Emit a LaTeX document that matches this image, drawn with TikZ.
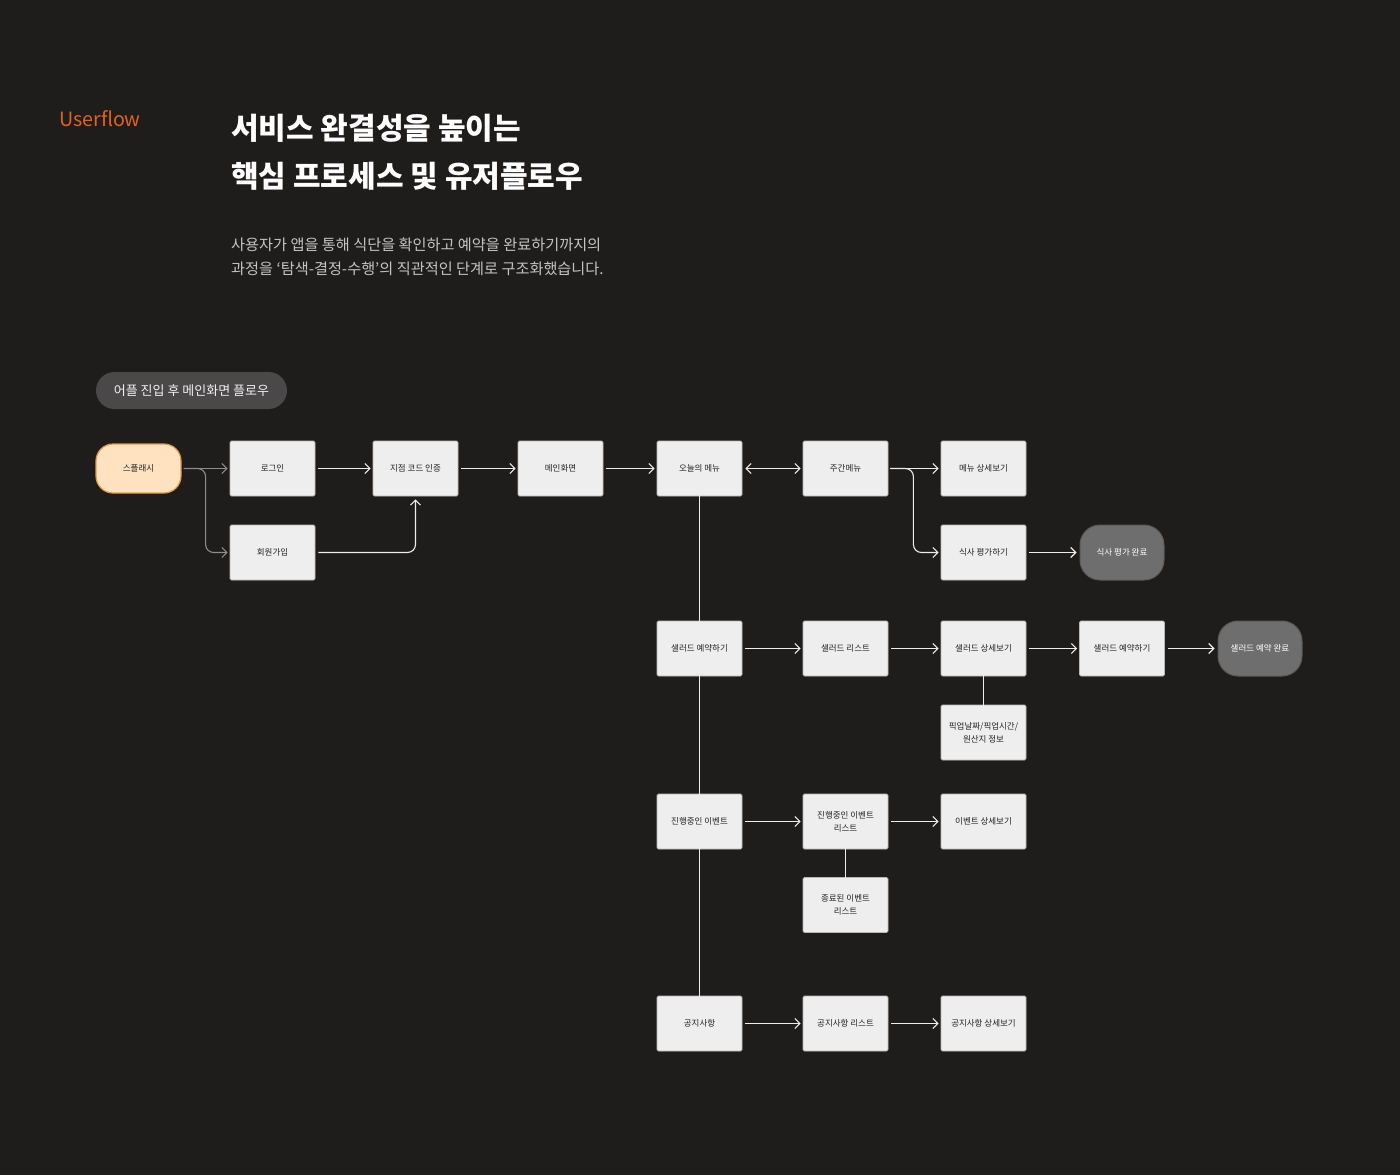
\documentclass[tikz,border=0pt]{standalone}
\usepackage{fontspec}
\newfontfamily\cjk{Noto Sans CJK KR}
\usetikzlibrary{arrows.meta,calc}
\definecolor{bg}{HTML}{1F1C1C}
\definecolor{boxfill}{HTML}{EEEEEE}
\definecolor{boxborder}{HTML}{B8B8B8}
\definecolor{boxtext}{HTML}{222222}
\definecolor{splashfill}{HTML}{FFE2BF}
\definecolor{splashborder}{HTML}{E3974A}
\definecolor{endfill}{HTML}{6E6E6E}
\definecolor{endborder}{HTML}{5A5A5A}
\definecolor{orangetxt}{HTML}{E2621F}
\definecolor{subtxt}{HTML}{C4C4C4}
\definecolor{pillfill}{HTML}{4A4848}
\definecolor{linew}{HTML}{EDEDED}
\definecolor{lineg}{HTML}{8C8C8C}
\begin{document}
\begin{tikzpicture}[x=1pt,y=-1pt,
  stepbox/.style={draw=boxborder, line width=0.8pt, fill=boxfill, minimum width=85pt, minimum height=55pt, rounded corners=1.5pt, inner sep=0pt, align=center, text=boxtext, font=\cjk\fontsize{8.5}{13}\selectfont},
  splashbox/.style={stepbox, fill=splashfill, draw=splashborder, line width=1.2pt, minimum height=49pt, rounded corners=17pt},
  endbox/.style={stepbox, fill=endfill, draw=endborder, line width=1pt, minimum width=84pt, rounded corners=20pt, text=white},
  wline/.style={draw=linew, line width=1.1pt},
  gline/.style={draw=lineg, line width=1.1pt},
  arr/.style={-{Straight Barb[length=5pt,width=10pt]}},
  darr/.style={{Straight Barb[length=5pt,width=10pt]}-{Straight Barb[length=5pt,width=10pt]}},
]
\fill[bg] (0,0) rectangle (1400,1175);
\useasboundingbox (0,0) rectangle (1400,1175);

% header texts
\node[anchor=west, inner sep=0pt, text=orangetxt, font=\cjk\fontsize{19.7}{22}\selectfont] (uf) at (59,119) {Userflow};
\node[anchor=west, inner sep=0pt, text=white, font=\cjk\bfseries\fontsize{30}{34}\selectfont] (t1) at (231,128) {서비스 완결성을 높이는};
\node[anchor=west, inner sep=0pt, text=white, font=\cjk\bfseries\fontsize{30}{34}\selectfont] (t2) at (231,176) {핵심 프로세스 및 유저플로우};
\node[anchor=west, inner sep=0pt, text=subtxt, font=\cjk\fontsize{15.2}{18}\selectfont] (s1) at (231,245) {사용자가 앱을 통해 식단을 확인하고 예약을 완료하기까지의};
\node[anchor=west, inner sep=0pt, text=subtxt, font=\cjk\fontsize{15.2}{18}\selectfont] (s2) at (231,269) {과정을 ‘탐색-결정-수행’의 직관적인 단계로 구조화했습니다.};

% pill label
\node[fill=pillfill, rounded corners=18.5pt, minimum width=191pt, minimum height=37pt, inner sep=0pt, text=white!90!gray, font=\cjk\fontsize{13}{16}\selectfont] (pill) at (191.5,390.5) {어플 진입 후 메인화면 플로우};

% nodes
\node[splashbox] (splash) at (138.5,468.5) {스플래시};
\node[stepbox] (login) at (272.5,468.5) {로그인};
\node[stepbox] (join) at (272.5,552.5) {회원가입};
\node[stepbox] (code) at (415.5,468.5) {지점 코드 인증};
\node[stepbox] (main) at (560.5,468.5) {메인화면};
\node[stepbox] (today) at (699.5,468.5) {오늘의 메뉴};
\node[stepbox] (week) at (845.5,468.5) {주간메뉴};
\node[stepbox] (mdetail) at (983.5,468.5) {메뉴 상세보기};
\node[stepbox] (rate) at (983.5,552.5) {식사 평가하기};
\node[endbox] (ratedone) at (1122,552.5) {식사 평가 완료};

\node[stepbox] (salad) at (699.5,648.5) {샐러드 예약하기};
\node[stepbox] (slist) at (845.5,648.5) {샐러드 리스트};
\node[stepbox] (sdetail) at (983.5,648.5) {샐러드 상세보기};
\node[stepbox] (sres) at (1122,648.5) {샐러드 예약하기};
\node[endbox] (sdone) at (1260,648.5) {샐러드 예약 완료};
\node[stepbox] (pickup) at (983.5,732.5) {픽업날짜/픽업시간/\\원산지 정보};

\node[stepbox] (event) at (699.5,821.5) {진행중인 이벤트};
\node[stepbox] (elist) at (845.5,821.5) {진행중인 이벤트\\리스트};
\node[stepbox] (edetail) at (983.5,821.5) {이벤트 상세보기};
\node[stepbox] (eend) at (845.5,905) {종료된 이벤트\\리스트};

\node[stepbox] (notice) at (699.5,1023.5) {공지사항};
\node[stepbox] (nlist) at (845.5,1023.5) {공지사항 리스트};
\node[stepbox] (ndetail) at (983.5,1023.5) {공지사항 상세보기};

% connectors from splash (gray)
\draw[gline, arr] ([xshift=2pt]splash.east) -- ([xshift=-2pt]login.west);
\draw[gline, arr, rounded corners=8pt] ([xshift=2pt]splash.east) -- ++(22,0) |- ([xshift=-2pt]join.west);

% white connectors
\draw[wline, arr] ([xshift=3pt]login.east) -- ([xshift=-2pt]code.west);
\draw[wline, arr, rounded corners=8pt] ([xshift=3pt]join.east) -| ([yshift=-3pt]code.south);
\draw[wline, arr] ([xshift=3pt]code.east) -- ([xshift=-2pt]main.west);
\draw[wline, arr] ([xshift=3pt]main.east) -- ([xshift=-2pt]today.west);
\draw[wline, darr] ([xshift=3pt]today.east) -- ([xshift=-2pt]week.west);
\draw[wline, arr] ([xshift=2pt]week.east) -- ([xshift=-2pt]mdetail.west);
\draw[wline, arr, rounded corners=8pt] ([xshift=2pt]week.east) -- ++(23,0) |- ([xshift=-2pt]rate.west);
\draw[wline, arr] ([xshift=3pt]rate.east) -- ([xshift=-3pt]ratedone.west);

% vertical spine
\draw[wline] ([yshift=3pt]today.south) -- ([yshift=-3pt]salad.north);
\draw[wline] ([yshift=3pt]salad.south) -- ([yshift=-3pt]event.north);
\draw[wline] ([yshift=3pt]event.south) -- ([yshift=-3pt]notice.north);

% salad row
\draw[wline, arr] ([xshift=3pt]salad.east) -- ([xshift=-2pt]slist.west);
\draw[wline, arr] ([xshift=3pt]slist.east) -- ([xshift=-2pt]sdetail.west);
\draw[wline, arr] ([xshift=3pt]sdetail.east) -- ([xshift=-2pt]sres.west);
\draw[wline, arr] ([xshift=3pt]sres.east) -- ([xshift=-3pt]sdone.west);
\draw[wline] ([yshift=3pt]sdetail.south) -- ([yshift=-3pt]pickup.north);

% event row
\draw[wline, arr] ([xshift=3pt]event.east) -- ([xshift=-2pt]elist.west);
\draw[wline, arr] ([xshift=3pt]elist.east) -- ([xshift=-2pt]edetail.west);
\draw[wline] ([yshift=3pt]elist.south) -- ([yshift=-3pt]eend.north);

% notice row
\draw[wline, arr] ([xshift=3pt]notice.east) -- ([xshift=-2pt]nlist.west);
\draw[wline, arr] ([xshift=3pt]nlist.east) -- ([xshift=-2pt]ndetail.west);
\end{tikzpicture}
\end{document}
